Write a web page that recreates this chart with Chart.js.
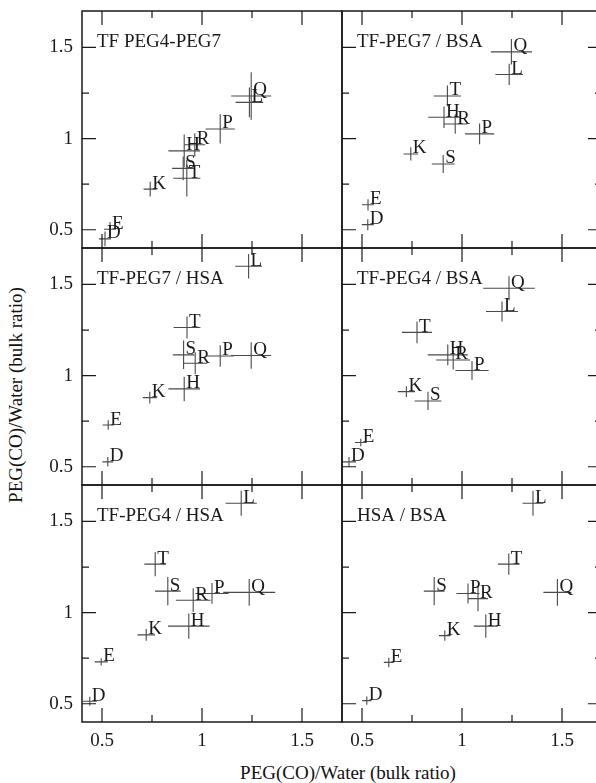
<!DOCTYPE html>
<html><head><meta charset="utf-8">
<script src="https://cdn.jsdelivr.net/npm/chart.js@4.4.1/dist/chart.umd.min.js"></script>
<style>
html,body{margin:0;padding:0;background:#fff;}
body{width:596px;height:783px;overflow:hidden;position:relative;}
canvas{position:absolute;}
.t{position:absolute;font-family:"Liberation Serif",serif;font-size:19px;color:#111;white-space:nowrap;line-height:1;}
</style></head><body>
<div class="t" id="xt" style="left:348px;top:763px;transform:translateX(-50%);">PEG(CO)/Water (bulk ratio)</div>
<div class="t" id="yt" style="left:15px;top:395px;transform:translate(-50%,-50%) rotate(-90deg);">PEG(CO)/Water (bulk ratio)</div>
<script>
// ---- data (point order follows `letters`) ----
const letters = ['D','E','H','K','L','P','Q','R','S','T'];
const panelTitles = ['TF PEG4-PEG7','TF-PEG7 / BSA','TF-PEG7 / HSA','TF-PEG4 / BSA','TF-PEG4 / HSA','HSA / BSA'];

const peg4peg7X    = [0.515,0.540,0.911,0.741,1.237,1.091,1.246,0.964,0.906,0.924];
const peg4peg7Y    = [0.450,0.503,0.933,0.723,1.199,1.053,1.234,0.966,0.837,0.783];
const peg4peg7XErr = [0.030,0.030,0.079,0.033,0.069,0.073,0.100,0.052,0.055,0.068];
const peg4peg7YErr = [0.040,0.040,0.090,0.041,0.082,0.080,0.130,0.064,0.065,0.100];

const peg7bsaX    = [0.529,0.530,0.910,0.744,1.236,1.088,1.247,0.966,0.906,0.927];
const peg7bsaY    = [0.528,0.637,1.117,0.916,1.352,1.026,1.476,1.080,0.861,1.234];
const peg7bsaXErr = [0.030,0.030,0.079,0.036,0.069,0.073,0.103,0.058,0.057,0.068];
const peg7bsaYErr = [0.030,0.031,0.059,0.036,0.058,0.057,0.070,0.053,0.049,0.057];

const peg7hsaX    = [0.529,0.531,0.911,0.739,1.233,1.091,1.246,0.966,0.908,0.925];
const peg7hsaY    = [0.527,0.729,0.927,0.879,1.600,1.108,1.110,1.068,1.114,1.264];
const peg7hsaXErr = [0.027,0.028,0.079,0.035,0.067,0.067,0.100,0.060,0.054,0.067];
const peg7hsaYErr = [0.026,0.026,0.067,0.032,0.067,0.059,0.073,0.060,0.078,0.060];

const peg4bsaX    = [0.435,0.494,0.929,0.722,1.200,1.050,1.235,0.956,0.830,0.775];
const peg4bsaY    = [0.527,0.633,1.114,0.912,1.352,1.028,1.479,1.086,0.861,1.237];
const peg4bsaXErr = [0.035,0.029,0.100,0.043,0.080,0.083,0.129,0.085,0.067,0.075];
const peg4bsaYErr = [0.027,0.021,0.057,0.029,0.055,0.052,0.066,0.053,0.050,0.060];

const peg4hsaX    = [0.439,0.496,0.934,0.721,1.196,1.050,1.236,0.956,0.829,0.766];
const peg4hsaY    = [0.514,0.730,0.926,0.878,1.600,1.105,1.111,1.068,1.118,1.266];
const peg4hsaXErr = [0.035,0.033,0.104,0.044,0.078,0.083,0.130,0.087,0.064,0.054];
const peg4hsaYErr = [0.025,0.020,0.069,0.032,0.068,0.057,0.074,0.065,0.077,0.067];

const hsabsaX    = [0.524,0.634,1.119,0.914,1.355,1.030,1.477,1.080,0.861,1.234];
const hsabsaY    = [0.517,0.727,0.926,0.874,1.600,1.105,1.111,1.077,1.118,1.266];
const hsabsaXErr = [0.023,0.025,0.060,0.029,0.052,0.058,0.070,0.050,0.052,0.054];
const hsabsaYErr = [0.023,0.026,0.064,0.028,0.069,0.055,0.074,0.069,0.077,0.058];

const tickValues = [0.5, 0.75, 1, 1.25, 1.5];
const tickLabels = ['0.5', '', '1', '', '1.5'];
const axisMin = 0.4, axisMax = 1.7;

// ---- layout ----
const W = 596, H = 783;
const PLOT_LEFT = 82, PLOT_TOP = 11, PW = 260, PH = 237;
const FONT = '"Liberation Serif", serif';
const INK = '#1a1a1a';

const panels = [
  [peg4peg7X, peg4peg7Y, peg4peg7XErr, peg4peg7YErr],
  [peg7bsaX, peg7bsaY, peg7bsaXErr, peg7bsaYErr],
  [peg7hsaX, peg7hsaY, peg7hsaXErr, peg7hsaYErr],
  [peg4bsaX, peg4bsaY, peg4bsaXErr, peg4bsaYErr],
  [peg4hsaX, peg4hsaY, peg4hsaXErr, peg4hsaYErr],
  [hsabsaX, hsabsaY, hsabsaXErr, hsabsaYErr]
];

const panelPlugin = {
  id: 'panelDeco',
  afterDatasetsDraw(chart) {
    const o = chart.options.plugins.panelDeco;
    const {ctx, chartArea: a} = chart;
    const xs = chart.scales.x, ys = chart.scales.y;
    const pts = chart.data.datasets[0].data;
    ctx.save();
    ctx.beginPath();
    ctx.rect(a.left, a.top, a.right - a.left, a.bottom - a.top);
    ctx.clip();
    ctx.strokeStyle = '#4a4a4a';
    ctx.lineWidth = 1.1;
    pts.forEach(p => {
      const cx = xs.getPixelForValue(p.x), cy = ys.getPixelForValue(p.y);
      const x1 = xs.getPixelForValue(p.x - p.xErr), x2 = xs.getPixelForValue(p.x + p.xErr);
      const y1 = ys.getPixelForValue(p.y - p.yErr), y2 = ys.getPixelForValue(p.y + p.yErr);
      ctx.beginPath();
      ctx.moveTo(x1, cy); ctx.lineTo(x2, cy);
      ctx.moveTo(cx, y1); ctx.lineTo(cx, y2);
      ctx.stroke();
    });
    ctx.fillStyle = INK;
    ctx.font = '19px ' + FONT;
    ctx.textAlign = 'left';
    ctx.textBaseline = 'alphabetic';
    pts.forEach(p => {
      const cx = xs.getPixelForValue(p.x), cy = ys.getPixelForValue(p.y);
      ctx.fillText(p.label, cx + 2, cy - 0.5);
    });
    ctx.fillText(o.title, a.left + 15, ys.getPixelForValue(1.5));
    ctx.restore();

    ctx.save();
    ctx.strokeStyle = INK;
    ctx.lineWidth = 1.5;
    ctx.strokeRect(a.left, a.top, a.right - a.left, a.bottom - a.top);
    ctx.lineWidth = 1.2;
    ctx.beginPath();
    tickValues.forEach((v, i) => {
      const len = tickLabels[i] ? 14 : 7;
      const px = xs.getPixelForValue(v);
      ctx.moveTo(px, a.bottom); ctx.lineTo(px, a.bottom - len);
      ctx.moveTo(px, a.top); ctx.lineTo(px, a.top + len);
      const py = ys.getPixelForValue(v);
      ctx.moveTo(a.left, py); ctx.lineTo(a.left + len, py);
      if (o.rightTicks) { ctx.moveTo(a.right, py); ctx.lineTo(a.right - len, py); }
    });
    ctx.stroke();
    ctx.restore();
  }
};

function makePanel(i) {
  const col = i % 2, row = Math.floor(i / 2);
  const px0 = PLOT_LEFT + col * PW, py0 = PLOT_TOP + row * PH;
  const padT = 4, padR = 4;
  const padL = col === 0 ? 0 : 4;
  const padB = row === 2 ? 0 : 4;
  const yAxisW = col === 0 ? PLOT_LEFT : 0;
  const xAxisH = row === 2 ? H - (PLOT_TOP + 3 * PH) : 0;
  const left = col === 0 ? 0 : px0 - 4;
  const top = py0 - padT;
  const width = px0 + PW + padR - left;
  const height = (row === 2 ? H : py0 + PH + padB) - top;

  const cv = document.createElement('canvas');
  cv.width = width; cv.height = height;
  cv.style.left = left + 'px'; cv.style.top = top + 'px';
  cv.style.width = width + 'px'; cv.style.height = height + 'px';
  document.body.appendChild(cv);

  const [xv, yv, xe, ye] = panels[i];
  const data = letters.map((l, k) => ({x: xv[k], y: yv[k], xErr: xe[k], yErr: ye[k], label: l}));
  const tickFont = {family: FONT, size: 19};

  new Chart(cv, {
    type: 'scatter',
    data: {datasets: [{data, pointRadius: 0, pointHoverRadius: 0, showLine: false}]},
    options: {
      responsive: false, animation: false, devicePixelRatio: 1,
      layout: {padding: {top: padT, right: padR, bottom: padB, left: padL}},
      events: [],
      plugins: {legend: {display: false}, tooltip: {enabled: false},
        panelDeco: {title: panelTitles[i], rightTicks: col === 1}},
      scales: {
        x: {
          type: 'linear', min: axisMin, max: axisMax,
          afterBuildTicks: s => { s.ticks = tickValues.map(v => ({value: v})); },
          afterFit: s => { s.height = xAxisH; s.paddingLeft = 0; s.paddingRight = 0; },
          ticks: {display: row === 2, autoSkip: false, maxRotation: 0, padding: 8, color: INK, font: tickFont,
            callback: v => tickLabels[tickValues.indexOf(v)] ?? ''},
          grid: {display: false, drawTicks: false},
          border: {display: false}
        },
        y: {
          type: 'linear', min: axisMin, max: axisMax,
          afterBuildTicks: s => { s.ticks = tickValues.map(v => ({value: v})); },
          afterFit: s => { s.width = yAxisW; s.paddingTop = 0; s.paddingBottom = 0; },
          ticks: {display: col === 0, autoSkip: false, padding: 9, color: INK, font: tickFont,
            callback: v => tickLabels[tickValues.indexOf(v)] ?? ''},
          grid: {display: false, drawTicks: false},
          border: {display: false}
        }
      }
    },
    plugins: [panelPlugin]
  });
}

function buildAll() { for (let i = 0; i < 6; i++) makePanel(i); }
let built = false;
function go() { if (!built) { built = true; buildAll(); } }
if (document.fonts && document.fonts.load) {
  document.fonts.load('19px "Liberation Serif"').then(go, go);
  setTimeout(go, 1500);
} else { go(); }
</script>
</body></html>
